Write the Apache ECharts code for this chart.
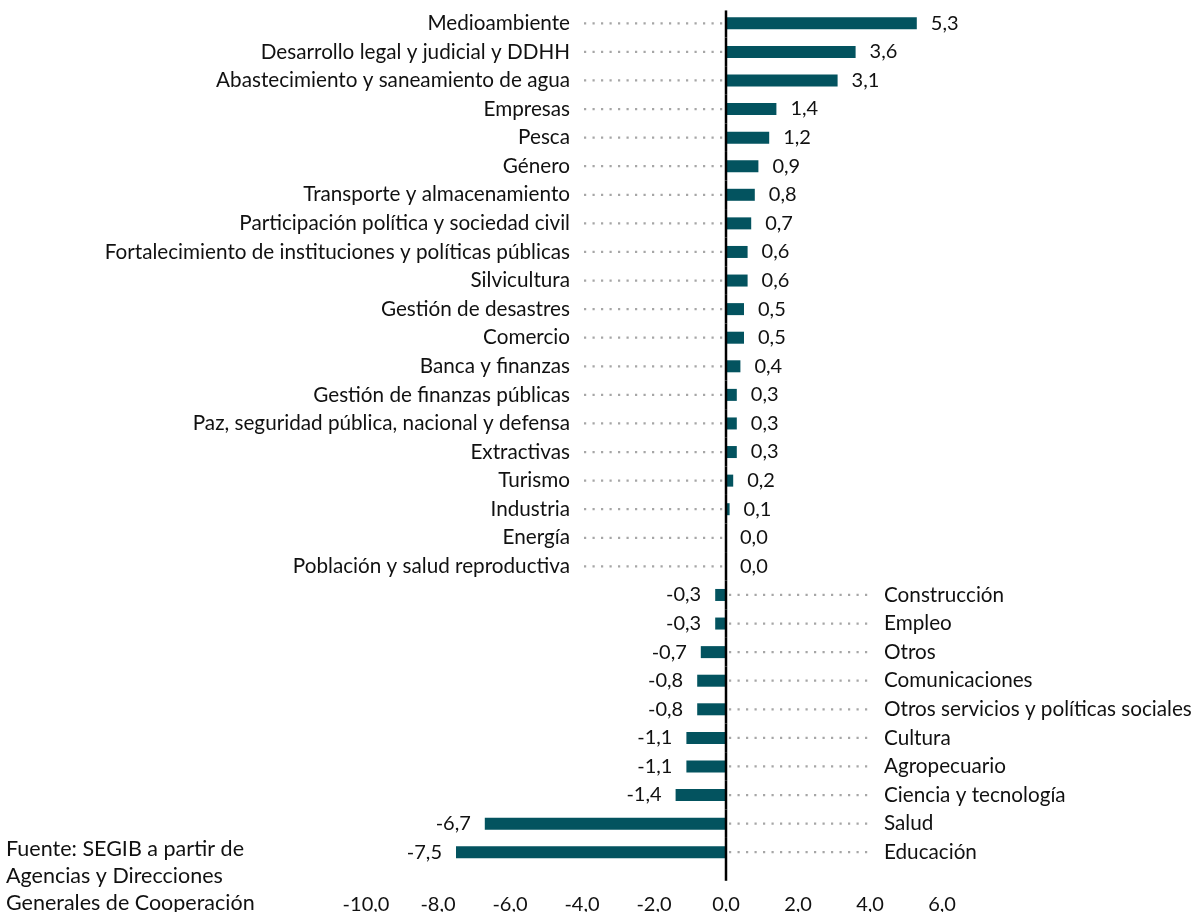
<!DOCTYPE html>
<html>
<head>
<meta charset="utf-8">
<script src="https://cdn.jsdelivr.net/npm/echarts@6/dist/echarts.min.js"></script>
<style>
    html, body { margin: 0; padding: 0; background: #fff; }
    #chart { width: 1194px; height: 912px; }
</style>
</head>
<body>
<div id="chart"></div>
<script>
    // sectores, de arriba a abajo
    const sectores = [
        'Medioambiente', 'Desarrollo legal y judicial y DDHH', 'Abastecimiento y saneamiento de agua',
        'Empresas', 'Pesca', 'Género', 'Transporte y almacenamiento',
        'Participación política y sociedad civil', 'Fortalecimiento de instituciones y políticas públicas',
        'Silvicultura', 'Gestión de desastres', 'Comercio', 'Banca y finanzas',
        'Gestión de finanzas públicas', 'Paz, seguridad pública, nacional y defensa', 'Extractivas',
        'Turismo', 'Industria', 'Energía', 'Población y salud reproductiva',
        'Construcción', 'Empleo', 'Otros', 'Comunicaciones', 'Otros servicios y políticas sociales',
        'Cultura', 'Agropecuario', 'Ciencia y tecnología', 'Salud', 'Educación'
    ];
    const variacion = [
        5.3, 3.6, 3.1, 1.4, 1.2, 0.9, 0.8, 0.7, 0.6, 0.6,
        0.5, 0.5, 0.4, 0.3, 0.3, 0.3, 0.2, 0.1, 0.0, 0.0,
        -0.3, -0.3, -0.7, -0.8, -0.8, -1.1, -1.1, -1.4, -6.7, -7.5
    ];
    const fuente = 'Fuente: SEGIB a partir de\nAgencias y Direcciones\nGenerales de Cooperación';

    const FONT = 'Lato, "Noto Sans", sans-serif';
    const coma = v => v.toFixed(1).replace('.', ',');

    const myChart = echarts.init(document.getElementById('chart'));

    const barData = variacion.map(v => ({
        value: v,
        label: { position: v >= 0 ? 'right' : 'left' }
    }));

    const option = {
        backgroundColor: '#fff',
        animation: false,
        grid: { left: 366, right: 252, top: 9, bottom: 45.5, outerBoundsMode: 'none' },
        xAxis: {
            type: 'value',
            min: -10,
            max: 6,
            interval: 2,
            axisLine: { show: false },
            axisTick: { show: false },
            splitLine: { show: false },
            axisLabel: {
                margin: 28,
                color: '#111',
                fontFamily: FONT,
                fontSize: 20,
                formatter: v => coma(v)
            }
        },
        yAxis: {
            type: 'category',
            inverse: true,
            data: sectores,
            axisLine: { show: false },
            axisTick: { show: false },
            axisLabel: { show: false },
            splitLine: { show: false }
        },
        series: [
            {
                type: 'bar',
                data: barData,
                barWidth: 12,
                itemStyle: { color: '#03535f' },
                label: {
                    show: true,
                    distance: 14,
                    color: '#111',
                    fontFamily: FONT,
                    fontSize: 20,
                    formatter: p => coma(p.value)
                },
                z: 2
            },
            {
                // guías punteadas, nombres de sector y eje en cero
                type: 'custom',
                data: variacion.map((v, i) => [0, i, v]),
                encode: { x: 0, y: 1 },
                z: 3,
                silent: true,
                renderItem: function (params, api) {
                    const i = api.value(1);
                    const v = api.value(2);
                    const p = api.coord([0, i]);
                    const band = api.size([0, 1])[1];
                    const pos = v >= 0;
                    const last = params.dataIndex === variacion.length - 1;
                    const dot = { stroke: '#a6a6a6', lineWidth: 2.2, lineDash: [2.2, 6.3] };
                    return {
                        type: 'group',
                        children: [
                            {
                                type: 'line',
                                shape: pos
                                    ? { x1: p[0] - 142, y1: p[1], x2: p[0] - 2, y2: p[1] }
                                    : { x1: p[0] + 3, y1: p[1], x2: p[0] + 147, y2: p[1] },
                                style: dot
                            },
                            {
                                type: 'text',
                                style: {
                                    text: sectores[i],
                                    x: pos ? p[0] - 156 : p[0] + 158,
                                    y: p[1],
                                    align: pos ? 'right' : 'left',
                                    verticalAlign: 'middle',
                                    font: '20.7px ' + FONT,
                                    fill: '#111'
                                }
                            },
                            {
                                type: 'line',
                                shape: {
                                    x1: p[0], x2: p[0],
                                    y1: p[1] - band * (params.dataIndex === 0 ? 0.45 : 0.5),
                                    y2: p[1] + band * (last ? 1.0 : 0.5)
                                },
                                style: { stroke: '#000', lineWidth: 2.5 }
                            }
                        ]
                    };
                }
            }
        ],
        graphic: [
            {
                type: 'text',
                left: 6,
                top: 836,
                style: {
                    text: fuente,
                    font: '21.5px ' + FONT,
                    lineHeight: 27,
                    fill: '#111'
                }
            }
        ]
    };

    myChart.setOption(option);
</script>
</body>
</html>
